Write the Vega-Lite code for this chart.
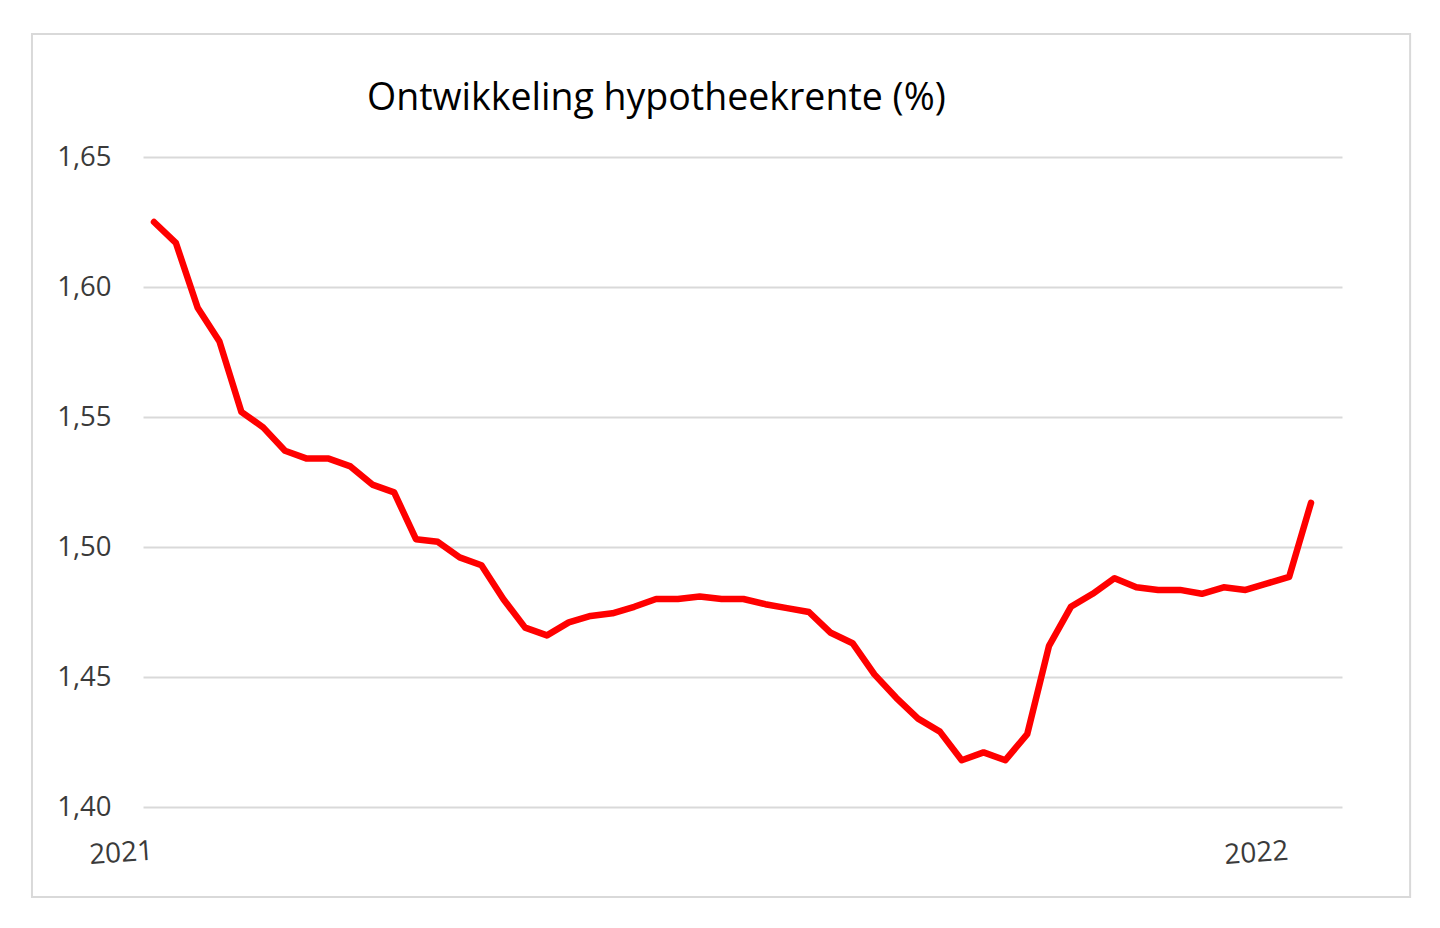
{
  "$schema": "https://vega.github.io/schema/vega-lite/v6.json",
  "width": 1199,
  "height": 650,
  "autosize": {"type": "none"},
  "padding": {"left": 143, "top": 157, "right": 98, "bottom": 121},
  "background": "#ffffff",
  "title": {
    "text": "Ontwikkeling hypotheekrente (%)",
    "anchor": "start",
    "frame": "group",
    "dx": 224,
    "offset": -84,
    "font": "Open Sans",
    "fontSize": 37.5,
    "fontWeight": "normal",
    "color": "#000000"
  },
  "datasets": {
    "rente": [
      {"week": 1, "rente": 1.625},
      {"week": 2, "rente": 1.617},
      {"week": 3, "rente": 1.592},
      {"week": 4, "rente": 1.579},
      {"week": 5, "rente": 1.552},
      {"week": 6, "rente": 1.546},
      {"week": 7, "rente": 1.537},
      {"week": 8, "rente": 1.534},
      {"week": 9, "rente": 1.534},
      {"week": 10, "rente": 1.531},
      {"week": 11, "rente": 1.524},
      {"week": 12, "rente": 1.521},
      {"week": 13, "rente": 1.503},
      {"week": 14, "rente": 1.502},
      {"week": 15, "rente": 1.496},
      {"week": 16, "rente": 1.493},
      {"week": 17, "rente": 1.48},
      {"week": 18, "rente": 1.469},
      {"week": 19, "rente": 1.466},
      {"week": 20, "rente": 1.471},
      {"week": 21, "rente": 1.4735},
      {"week": 22, "rente": 1.4745},
      {"week": 23, "rente": 1.477},
      {"week": 24, "rente": 1.48},
      {"week": 25, "rente": 1.48},
      {"week": 26, "rente": 1.481},
      {"week": 27, "rente": 1.48},
      {"week": 28, "rente": 1.48},
      {"week": 29, "rente": 1.478},
      {"week": 30, "rente": 1.4765},
      {"week": 31, "rente": 1.475},
      {"week": 32, "rente": 1.467},
      {"week": 33, "rente": 1.463},
      {"week": 34, "rente": 1.451},
      {"week": 35, "rente": 1.442},
      {"week": 36, "rente": 1.434},
      {"week": 37, "rente": 1.429},
      {"week": 38, "rente": 1.418},
      {"week": 39, "rente": 1.421},
      {"week": 40, "rente": 1.418},
      {"week": 41, "rente": 1.428},
      {"week": 42, "rente": 1.462},
      {"week": 43, "rente": 1.477},
      {"week": 44, "rente": 1.482},
      {"week": 45, "rente": 1.488},
      {"week": 46, "rente": 1.4845},
      {"week": 47, "rente": 1.4835},
      {"week": 48, "rente": 1.4835},
      {"week": 49, "rente": 1.482},
      {"week": 50, "rente": 1.4845},
      {"week": 51, "rente": 1.4835},
      {"week": 52, "rente": 1.486},
      {"week": 53, "rente": 1.4885},
      {"week": 54, "rente": 1.517}
    ],
    "jaren": [
      {"week": -0.5, "label": "2021"},
      {"week": 51.5, "label": "2022"}
    ]
  },
  "layer": [
    {
      "data": {"name": "rente"},
      "mark": {
        "type": "line",
        "color": "#ff0000",
        "strokeWidth": 6.5,
        "strokeJoin": "round",
        "strokeCap": "round"
      },
      "encoding": {
        "x": {
          "field": "week",
          "type": "quantitative",
          "scale": {"domain": [0.496, 55.42], "nice": false, "zero": false},
          "axis": null
        },
        "y": {
          "field": "rente",
          "type": "quantitative",
          "scale": {"domain": [1.4, 1.65], "nice": false, "zero": false},
          "axis": {
            "title": null,
            "values": [1.4, 1.45, 1.5, 1.55, 1.6, 1.65],
            "labelExpr": "replace(format(datum.value, '.2f'), '.', ',')",
            "grid": true,
            "gridColor": "#d9d9d9",
            "gridWidth": 2,
            "ticks": false,
            "domain": false,
            "labelPadding": 32,
            "labelFont": "Open Sans",
            "labelFontSize": 27.5,
            "labelColor": "#3a3a3a",
            "zindex": 0
          }
        }
      }
    },
    {
      "data": {"values": [{}]},
      "mark": {"type": "rect", "filled": false, "stroke": "#d9d9d9", "strokeWidth": 2},
      "encoding": {
        "x": {"datum": -4.59, "type": "quantitative", "axis": null},
        "x2": {"datum": 58.54},
        "y": {"datum": 1.6973, "type": "quantitative"},
        "y2": {"datum": 1.3654}
      }
    },
    {
      "data": {"name": "jaren"},
      "mark": {
        "type": "text",
        "font": "Open Sans",
        "fontSize": 28,
        "color": "#3a3a3a",
        "angle": -4,
        "align": "center",
        "baseline": "middle"
      },
      "encoding": {
        "x": {"field": "week", "type": "quantitative", "axis": null},
        "y": {"datum": 1.382, "type": "quantitative"},
        "text": {"field": "label"}
      }
    }
  ],
  "config": {
    "view": {"stroke": null}
  }
}
